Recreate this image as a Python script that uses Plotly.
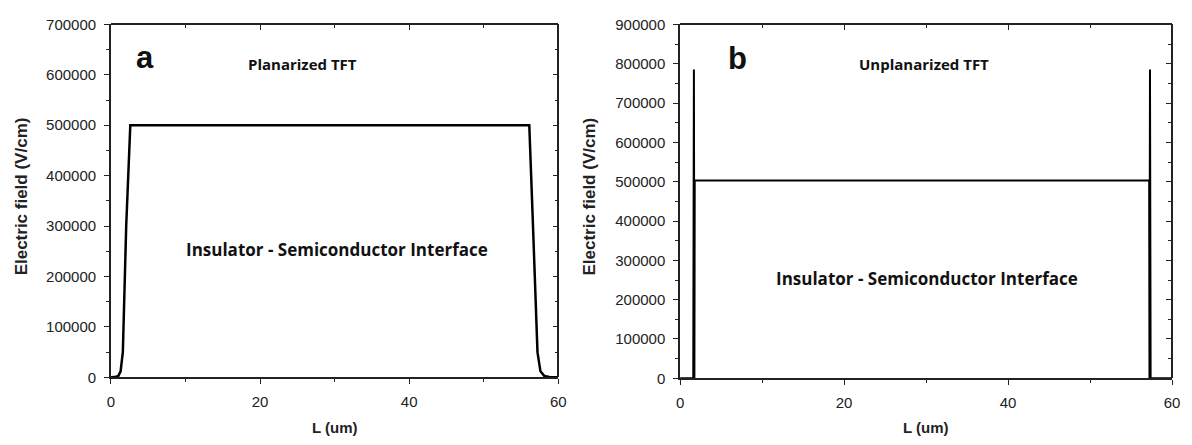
import plotly.graph_objects as go

# Electric field along the channel at the insulator/semiconductor interface
planar_L = [0.0, 0.5, 1.0, 1.3, 1.6, 1.8, 2.05, 2.6, 56.1, 56.6, 56.9, 57.2, 57.6, 58.1, 58.8, 59.5, 60.0]
planar_E = [0, 500, 3000, 12000, 50000, 150000, 300000, 500000, 500000, 300000, 150000, 50000, 12000, 3000, 800, 200, 0]

unplanar_L = [0.0, 1.6, 1.68, 1.74, 1.78, 57.2, 57.24, 57.3, 57.38, 60.0]
unplanar_E = [0, 0, 785000, 0, 503000, 503000, 0, 785000, 0, 0]

x_ticks = [0, 20, 40, 60]
ya_ticks = [0, 100000, 200000, 300000, 400000, 500000, 600000, 700000]
yb_ticks = [0, 100000, 200000, 300000, 400000, 500000, 600000, 700000, 800000, 900000]

W, H = 1192, 445
xa_dom = [108 / W, 560 / W]
xb_dom = [683 / W, 1180 / W]
ya_dom = [(H - 383) / H, (H - 16) / H]
yb_dom = [(H - 384) / H, (H - 16) / H]

tick_font = dict(family="Liberation Sans, Arial", size=15, color="#222222")
title_font = dict(family="Liberation Sans, Arial", size=17, color="#222222")
xtitle_font = dict(family="Liberation Sans, Arial", size=15, color="#222222")
AX = "#222222"

fig = go.Figure()
fig.add_trace(go.Scatter(x=planar_L, y=planar_E, mode="lines",
                         line=dict(color="black", width=2.5),
                         xaxis="x", yaxis="y", showlegend=False))
fig.add_trace(go.Scatter(x=unplanar_L, y=unplanar_E, mode="lines",
                         line=dict(color="black", width=2),
                         xaxis="x2", yaxis="y2", showlegend=False))
# placeholders so the mirrored (inside-tick) axes get drawn
for xa, ya in (("x3", "y3"), ("x4", "y4")):
    fig.add_trace(go.Scatter(x=[0], y=[0], mode="markers", marker=dict(opacity=0),
                             hoverinfo="skip", xaxis=xa, yaxis=ya, showlegend=False))


def base_axis(dom, rng, tickvals, minor_dtick, standoff, **kw):
    d = dict(domain=dom, range=rng, tickvals=tickvals, showgrid=False, zeroline=False,
             showline=True, linecolor=AX, linewidth=1.6, ticks="outside", ticklen=5,
             tickwidth=1.4, tickcolor=AX, tickfont=tick_font, fixedrange=True,
             ticklabelstandoff=standoff,
             minor=dict(dtick=minor_dtick, ticklen=3, tickwidth=1.2, tickcolor=AX,
                        ticks="outside", showgrid=False))
    d.update(kw)
    return d


def mirror_axis(overlay, side, pos, rng, tickvals, minor_dtick):
    return dict(overlaying=overlay, side=side, anchor="free", position=pos, range=rng,
                tickvals=tickvals, showticklabels=False, showgrid=False, zeroline=False,
                showline=True, linecolor=AX, linewidth=1.6, ticks="inside", ticklen=5,
                tickwidth=1.4, tickcolor=AX, fixedrange=True,
                minor=dict(dtick=minor_dtick, ticklen=3, tickwidth=1.2, tickcolor=AX,
                           ticks="inside", showgrid=False))


fig.update_layout(
    width=W, height=H, margin=dict(l=0, r=0, t=0, b=0),
    paper_bgcolor="white", plot_bgcolor="white",
    xaxis=base_axis(xa_dom, [0, 60], x_ticks, 10, 5, anchor="y"),
    yaxis=base_axis(ya_dom, [0, 700000], ya_ticks, 50000, 5, anchor="x", tickformat="d"),
    xaxis2=base_axis(xb_dom, [0, 60], x_ticks, 10, 5, anchor="y2"),
    yaxis2=base_axis(yb_dom, [0, 900000], yb_ticks, 50000, 5, anchor="x2", tickformat="d"),
    xaxis3=mirror_axis("x", "top", ya_dom[1], [0, 60], x_ticks, 10),
    yaxis3=mirror_axis("y", "right", xa_dom[1], [0, 700000], ya_ticks, 50000),
    xaxis4=mirror_axis("x2", "top", yb_dom[1], [0, 60], x_ticks, 10),
    yaxis4=mirror_axis("y2", "right", xb_dom[1], [0, 900000], yb_ticks, 50000),
)


def px(x, y, text, font, angle=0):
    fig.add_annotation(x=x / W, y=1 - y / H, xref="paper", yref="paper", text=text,
                       showarrow=False, font=font, textangle=angle,
                       xanchor="center", yanchor="middle")


px(18, 195, "<b>Electric field (V/cm)</b>", title_font, -90)
px(592, 195, "<b>Electric field (V/cm)</b>", title_font, -90)
px(334, 435, "<b>L (um)</b>", xtitle_font)
px(931, 435, "<b>L (um)</b>", xtitle_font)

letter_font = dict(family="Liberation Sans, Arial", size=31, color="#111111")
px(142, 50, "<b>a</b>", letter_font)
px(741, 51, "<b>b</b>", letter_font)

head_font = dict(family="Open Sans, Arial", size=15, color="#111111")
body_font = dict(family="Open Sans, Arial", size=17, color="#111111")
px(302, 57, "<b>Planarized TFT</b>", head_font)
px(929, 57, "<b>Unplanarized TFT</b>", head_font)
px(336, 250, "<b>Insulator - Semiconductor Interface</b>", body_font)
px(932, 280, "<b>Insulator - Semiconductor Interface</b>", body_font)

fig.write_html("out.html")
